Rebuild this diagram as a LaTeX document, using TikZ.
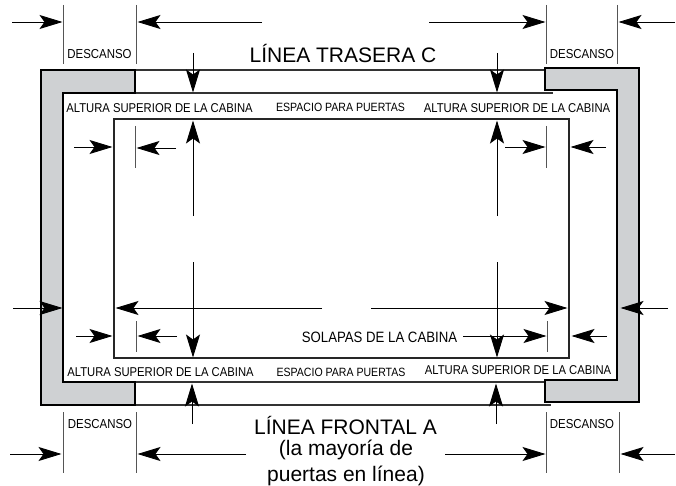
\documentclass[tikz,border=0pt]{standalone}
\usepackage{fontspec}
\setmainfont{Liberation Sans}
\newfontfamily\narrowfont{Liberation Sans}[FakeStretch=0.88]
\usetikzlibrary{arrows.meta}
\definecolor{wallgrey}{HTML}{CFD1D3}
\definecolor{tickgrey}{HTML}{555555}
\tikzset{
  dimarrow/.style={-{Stealth[length=23pt,width=14pt,inset=5pt]},line width=0.9pt,shorten >=0.5pt},
  dimtick/.style={line width=0.9pt,tickgrey},
  wall/.style={draw=black,fill=wallgrey,line width=1.2pt},
  lineline/.style={line width=1.2pt,black!80},
  espaciolabel/.style={font=\narrowfont\fontsize{12}{14}\selectfont,inner sep=0pt},
  alturalabel/.style={font=\narrowfont\fontsize{12.8}{14}\selectfont,inner sep=0pt},
  descansolabel/.style={font=\narrowfont\fontsize{13}{14}\selectfont,inner sep=0pt},
  solapaslabel/.style={font=\narrowfont\fontsize{15}{16}\selectfont,inner sep=0pt},
  biglabel/.style={font=\fontsize{21}{25}\selectfont,inner sep=0pt}
}
\begin{document}
\begin{tikzpicture}[x=1pt,y=-1pt]
\useasboundingbox (0,0) rectangle (676,486);
% walls and lines
\draw [lineline] (135,70) -- (548,70);
\draw [lineline] (135,93) -- (553,93);
\draw [lineline] (135,382) -- (549,382);
\draw [lineline] (135,405) -- (551,405);
\draw [wall] (135,70) -- (41,70) -- (41,405) -- (135,405) -- (135,382) -- (63,382) -- (63,93) -- (135,93) -- cycle;
\draw [wall] (545,68) -- (639,68) -- (639,402) -- (545,402) -- (545,380) -- (617,380) -- (617,90) -- (545,90) -- cycle;
\draw [line width=1.2pt,black!85] (114,119) rectangle (569,358);
% ticks
\draw [dimtick] (63,5) -- (63,64);
\draw [dimtick] (136,5) -- (136,64);
\draw [dimtick] (546,5) -- (546,64);
\draw [dimtick] (617,5) -- (617,64);
\draw [dimtick] (135,126) -- (135,168);
\draw [dimtick] (546,126) -- (546,168);
\draw [dimtick] (136,321) -- (136,352);
\draw [dimtick] (547,321) -- (547,352);
\draw [dimtick] (63,412) -- (63,473);
\draw [dimtick] (136,412) -- (136,473);
\draw [dimtick] (546,412) -- (546,473);
\draw [dimtick] (619,412) -- (619,473);
% top arrows
\draw [dimarrow] (12,22) -- (63,22);
\draw [dimarrow] (262,22) -- (137,22);
\draw [dimarrow] (429,22) -- (546,22);
\draw [dimarrow] (675,22) -- (618,22);
\draw [dimarrow] (193,53) -- (193,93);
\draw [dimarrow] (497,53) -- (497,93);
\draw [dimarrow] (193,216) -- (193,120);
\draw [dimarrow] (497,216) -- (497,120);
\draw [dimarrow] (74,147) -- (113,147);
\draw [dimarrow] (176,148) -- (136,148);
\draw [dimarrow] (505,147) -- (546,147);
\draw [dimarrow] (606,147) -- (570,147);
% lower arrows
\draw [dimarrow] (13,308) -- (63,308);
\draw [dimarrow] (322,308) -- (115,308);
\draw [dimarrow] (371,308) -- (568,308);
\draw [dimarrow] (668,308) -- (620,308);
\draw [dimarrow] (76,336) -- (113,336);
\draw [dimarrow] (177,336) -- (137,336);
\draw [dimarrow] (463,336) -- (547,336);
\draw [dimarrow] (607,336) -- (571,336);
\draw [dimarrow] (193,262) -- (193,358);
\draw [dimarrow] (497,262) -- (497,358);
\draw [dimarrow] (192,424) -- (192,383);
\draw [dimarrow] (496,424) -- (496,383);
\draw [dimarrow] (10,454) -- (62,454);
\draw [dimarrow] (246,454) -- (137,454);
\draw [dimarrow] (445,454) -- (546,454);
\draw [dimarrow] (675,454) -- (620,454);
% labels
\node [biglabel] (trasera) at (343,54) {LÍNEA TRASERA C};
\node [biglabel] (frontal) at (345.5,425) {LÍNEA FRONTAL A};
\node [biglabel] (mayoria) at (346,450) {(la mayoría de};
\node [biglabel] (puertas) at (346,476) {puertas en línea)};
\node [descansolabel] (descansotl) at (99.5,54) {DESCANSO};
\node [descansolabel] (descansotr) at (582,54) {DESCANSO};
\node [descansolabel] (descansobl) at (100,424) {DESCANSO};
\node [descansolabel] (descansobr) at (582,424) {DESCANSO};
\node [alturalabel] (alturatl) at (159.5,108) {ALTURA SUPERIOR DE LA CABINA};
\node [alturalabel] (alturatr) at (517,108) {ALTURA SUPERIOR DE LA CABINA};
\node [alturalabel] (alturabl) at (160.5,372) {ALTURA SUPERIOR DE LA CABINA};
\node [alturalabel] (alturabr) at (518,370) {ALTURA SUPERIOR DE LA CABINA};
\node [espaciolabel] (espaciot) at (340.5,107) {ESPACIO PARA PUERTAS};
\node [espaciolabel] (espaciob) at (341,372) {ESPACIO PARA PUERTAS};
\node [solapaslabel] (solapas) at (379.5,337) {SOLAPAS DE LA CABINA};
\end{tikzpicture}
\end{document}
